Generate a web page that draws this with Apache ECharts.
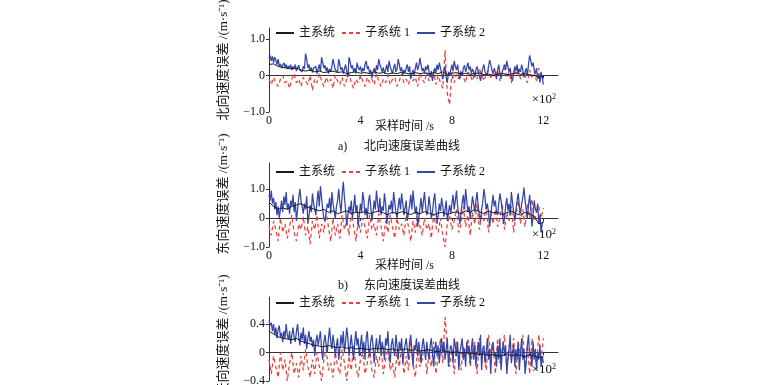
<!DOCTYPE html>
<html>
<head>
<meta charset="utf-8">
<script src="https://cdn.jsdelivr.net/npm/echarts@6/dist/echarts.min.js"></script>
<style>
html,body{margin:0;padding:0;background:#fff;}
#chart{width:770px;height:385px;}
</style>
</head>
<body>
<div id="chart"></div>
<script>
// ---- data (x in units of 10^2 s) ----
var xTicks = [0, 4, 8, 12];
var yTicksA = [-1, 0, 1];
var yTicksB = [-1, 0, 1];
var yTicksC = [-0.4, 0, 0.4];
var seriesNames = ['主系统', '子系统 1', '子系统 2'];
var mainStep = 0.2;   // sample spacing of main-system arrays
var sub1Step = 0.1;   // sample spacing of sub-system 1 arrays
var sub2Step = 0.05;  // sample spacing of sub-system 2 arrays

// a) north velocity error
var northMain = [0.3,0.32,0.25,0.22,0.2,0.18,0.2,0.15,0.12,0.15,
  0.1,0.12,0.08,0.1,0.12,0.08,0.1,0.05,0.08,0.1,
  0.06,0.08,0.05,0.1,0.06,0.08,0.04,0.07,0.05,0.09,
  0.06,0.04,0.08,0.05,0.07,0.04,0.08,0.05,0.1,0.02,
  0.06,0.08,0.04,0.06,0.03,0.05,0.07,0.02,0.04,0.0,
  0.03,0.06,0.02,0.04,0.07,0.03,0.05,0.02,0.0,-0.05,-0.02];
var northSub1 = [-0.1,-0.25,-0.05,-0.2,-0.3,-0.1,0.0,-0.2,-0.15,-0.35,
  -0.1,0.05,-0.2,-0.1,-0.3,-0.05,-0.15,-0.25,0.0,-0.4,
  -0.1,-0.2,0.05,-0.15,-0.3,-0.05,-0.2,-0.1,-0.35,0.0,
  -0.15,-0.25,-0.05,-0.3,-0.1,0.05,-0.2,-0.35,-0.1,-0.2,
  0.0,-0.15,-0.3,-0.05,-0.2,-0.1,-0.25,0.05,-0.15,-0.3,
  -0.1,-0.2,0.0,-0.25,-0.1,-0.05,-0.3,-0.15,0.05,-0.2,
  -0.1,-0.25,0.0,-0.15,-0.05,-0.3,0.05,-0.1,-0.2,0.1,
  -0.15,-0.05,0.15,-0.25,0.0,-0.2,-0.35,0.7,-0.5,-0.8,
  0.1,-0.2,0.05,-0.1,0.15,-0.05,-0.2,0.1,0.0,-0.15,
  0.1,-0.1,0.2,0.0,-0.15,0.05,0.15,-0.1,0.1,-0.05,
  0.15,-0.15,0.05,0.2,-0.05,0.1,-0.2,0.15,0.0,0.2,
  -0.1,0.1,0.0,-0.2,0.15,-0.05,0.1,-0.15,0.2,0.0,-0.1];
var northSub2 = [
  0.48,0.55,0.4,0.52,0.35,0.5,0.42,0.3,0.45,0.25,0.32,0.2,0.28,0.35,0.22,0.3,0.18,0.26,0.2,0.3,
  0.15,0.25,0.18,0.3,0.12,0.22,0.28,0.15,0.2,0.1,0.25,0.18,0.6,0.45,0.2,0.3,0.12,0.22,0.08,0.2,
  0.15,0.25,0.05,0.18,0.3,0.1,0.5,0.35,0.2,0.28,0.12,0.22,0.05,0.18,0.1,0.25,0.45,0.3,0.15,0.2,
  0.1,0.45,0.3,0.15,0.22,0.05,0.18,0.3,0.12,-0.05,0.5,0.38,0.2,0.28,0.1,0.2,0.05,0.35,0.22,0.15,
  0.25,0.08,0.2,0.12,0.3,0.4,0.18,0.25,0.05,0.15,-0.08,0.1,0.2,0.05,0.28,0.15,0.45,0.3,0.2,0.1,
  0.22,0.05,0.15,0.3,0.1,0.4,0.25,0.15,0.05,0.2,0.32,0.1,0.18,0.45,0.3,0.12,0.22,0.0,0.15,0.08,
  0.2,0.3,0.1,0.25,-0.1,0.05,0.15,0.0,0.2,0.35,0.15,0.25,0.48,0.3,0.12,0.2,0.05,0.25,0.15,0.3,
  0.1,-0.05,0.12,-0.15,0.05,0.2,0.08,0.3,0.15,0.35,0.2,0.05,-0.1,0.1,0.25,-0.05,-0.2,0.1,0.0,0.15,
  0.3,0.12,0.4,0.25,0.15,0.3,0.05,-0.1,0.1,0.0,0.2,0.28,0.1,0.22,0.35,0.15,0.25,0.05,0.18,0.1,
  -0.05,0.15,0.25,0.1,0.0,-0.15,0.05,0.2,0.3,0.1,0.15,0.0,0.25,0.42,0.3,0.15,0.05,0.2,0.1,-0.1,
  0.15,0.3,0.05,-0.1,0.1,0.2,0.3,0.15,0.4,0.25,0.1,0.2,-0.05,-0.15,0.05,0.25,0.12,0.3,0.05,0.18,
  0.1,0.3,0.15,-0.05,0.1,0.2,0.0,0.3,0.55,0.4,0.25,0.35,0.15,0.05,0.2,-0.1,0.05,-0.2,0.1,-0.05,
  -0.25];

// b) east velocity error
var eastMain = [0.55,0.4,0.3,0.35,0.3,0.4,0.45,0.5,0.4,0.35,
  0.3,0.25,0.3,0.2,0.25,0.15,0.2,0.25,0.15,0.2,
  0.18,0.22,0.15,0.2,0.25,0.18,0.12,0.2,0.15,0.22,
  0.18,0.12,0.2,0.15,0.22,0.17,0.1,0.18,0.2,0.12,
  0.18,0.22,0.15,0.25,0.2,0.3,0.22,0.15,0.25,0.18,
  0.2,0.12,0.18,0.25,0.15,0.1,0.2,0.15,0.05,-0.2,-0.15];
var eastSub1 = [-0.3,-0.6,-0.1,-0.4,-0.8,0.0,-0.5,-0.2,-0.7,-0.3,
  0.1,-0.5,-0.8,-0.2,-0.4,0.05,-0.6,-0.3,-0.9,-0.1,
  -0.4,0.1,-0.7,-0.2,-0.5,0.2,-0.3,-0.8,0.0,-0.6,
  -0.2,-0.7,0.1,-0.4,-0.1,-0.6,0.2,-0.3,-0.8,-0.1,
  -0.5,0.0,-0.3,-0.7,0.1,-0.4,-0.2,-0.6,0.15,-0.3,
  -0.8,-0.1,-0.5,0.1,-0.3,-0.7,0.0,-0.4,-0.2,-0.6,
  0.1,-0.3,-0.8,-0.1,-0.5,0.2,-0.3,-0.6,0.0,-0.4,
  -0.2,-0.7,0.15,-0.3,-0.5,0.0,-0.6,-1.0,-0.2,0.1,
  -0.4,-0.1,0.3,-0.5,-0.2,0.4,-0.3,0.1,-0.6,0.2,
  -0.2,0.5,-0.4,0.1,-0.1,0.4,-0.5,0.2,-0.2,0.3,
  -0.3,0.0,0.5,-0.4,0.2,-0.1,0.4,-0.5,0.1,0.6,
  -0.2,0.3,-0.3,0.5,0.0,0.65,-0.1,0.2,0.4,0.0,0.35];
var eastSub2 = [
  0.8,0.6,0.95,0.5,0.7,0.3,0.55,0.1,0.4,0.0,0.3,0.6,0.2,0.75,0.45,0.9,0.3,0.5,0.15,0.6,
  0.4,0.8,0.2,0.55,-0.1,0.3,0.7,1.0,0.6,0.4,0.15,0.5,0.3,0.75,-0.2,0.1,0.45,0.2,0.85,0.5,
  0.3,0.1,0.6,0.95,0.4,1.1,0.7,0.3,0.0,-0.1,0.2,0.5,0.35,0.7,0.15,0.9,0.5,0.25,0.0,0.4,
  0.6,1.0,0.5,0.2,0.8,1.25,0.7,0.3,-0.25,0.1,0.4,0.2,0.6,0.0,0.35,0.8,0.2,0.45,-0.3,0.1,
  0.5,0.2,0.9,0.6,0.1,0.35,0.0,0.55,0.8,0.4,-0.1,0.2,0.6,0.3,0.95,0.5,0.2,0.7,0.1,0.4,
  0.25,0.85,0.5,-0.2,0.1,0.45,0.3,0.6,0.15,0.9,0.55,0.2,0.0,0.4,0.7,0.3,0.85,0.5,0.1,0.35,
  0.6,-0.1,0.2,0.45,0.8,0.3,0.95,0.5,0.15,0.4,-0.3,0.0,0.35,0.7,0.2,0.55,0.9,0.4,0.1,0.3,
  0.75,0.4,0.0,0.2,0.6,0.85,0.3,-0.2,0.1,0.5,0.25,0.7,0.4,0.05,0.3,0.6,-0.1,0.2,0.45,0.15,
  0.5,0.8,0.3,0.6,0.95,0.4,0.1,-0.2,0.2,0.55,0.8,0.3,1.0,0.6,0.2,0.4,0.0,0.35,0.75,0.5,
  0.2,0.6,0.9,0.4,0.1,-0.1,0.3,0.55,1.0,0.7,0.3,0.5,0.2,-0.3,0.1,0.45,0.8,0.4,0.6,0.2,
  0.1,0.5,0.85,0.6,0.3,-0.2,0.0,0.4,0.7,0.25,0.5,0.1,0.9,0.55,0.2,-0.1,0.3,0.6,0.85,0.4,
  0.15,0.5,0.7,1.05,0.6,0.3,0.0,0.45,0.8,0.35,-0.3,0.1,0.6,0.3,0.2,0.5,-0.2,0.1,-0.5,-0.2,
  -0.1];

// c) up velocity error
var upMain = [0.3,0.26,0.22,0.2,0.19,0.18,0.2,0.16,0.14,0.12,
  0.1,0.09,0.08,0.1,0.08,0.07,0.08,0.06,0.07,0.05,
  0.06,0.05,0.04,0.06,0.05,0.06,0.04,0.05,0.03,0.04,
  0.05,0.03,0.04,0.02,0.03,0.04,0.02,0.01,0.03,0.01,
  0.0,0.01,-0.01,0.0,-0.02,-0.01,-0.03,-0.02,-0.04,-0.03,
  -0.05,-0.04,-0.02,-0.05,-0.03,-0.04,-0.06,-0.03,-0.05,-0.07,-0.06];
var upSub1 = [-0.1,-0.3,-0.05,-0.2,-0.35,0.0,-0.25,-0.1,-0.4,-0.15,
  0.0,-0.3,-0.15,-0.35,-0.05,-0.25,0.05,-0.2,-0.35,-0.1,
  -0.3,0.0,-0.2,-0.4,-0.1,0.05,-0.25,-0.15,-0.35,0.0,
  -0.2,-0.3,0.05,-0.15,-0.4,-0.05,-0.25,0.1,-0.2,-0.35,
  -0.1,0.0,-0.3,-0.15,0.05,-0.25,-0.35,-0.05,-0.2,0.1,
  -0.3,-0.1,0.05,-0.25,-0.15,-0.35,0.0,-0.2,0.1,-0.3,
  -0.05,-0.25,0.15,-0.15,-0.35,0.05,-0.2,-0.1,0.1,-0.3,
  0.0,-0.2,0.15,-0.3,-0.05,0.2,-0.15,0.5,0.1,-0.2,
  0.05,-0.3,0.15,-0.1,-0.25,0.1,-0.05,0.2,-0.2,0.0,
  0.15,-0.3,0.2,-0.1,0.05,-0.25,0.25,-0.05,0.1,-0.3,
  0.2,-0.15,0.05,0.25,-0.25,0.1,-0.1,0.2,-0.3,0.15,
  -0.05,0.25,-0.2,0.1,-0.3,0.2,0.0,-0.15,0.25,-0.1,0.2];
var upSub2 = [
  0.45,0.38,0.42,0.3,0.4,0.25,0.35,0.2,0.32,0.38,0.22,0.28,0.15,0.3,0.2,0.4,0.25,0.18,0.3,0.12,
  0.25,0.35,0.2,0.15,0.3,0.4,0.22,0.1,0.28,0.18,0.35,0.12,0.25,0.05,0.2,0.3,0.15,0.22,0.08,0.18,
  -0.05,0.15,0.25,0.1,0.2,0.3,0.05,-0.1,0.15,0.25,0.1,0.0,0.2,0.35,0.15,0.05,0.25,0.12,-0.05,0.1,
  0.2,-0.1,0.05,0.25,0.1,0.3,0.0,0.15,0.35,0.2,-0.05,0.1,0.25,0.05,-0.1,0.15,0.3,0.1,0.2,-0.05,
  0.1,0.25,0.0,0.15,-0.1,0.2,0.3,0.05,-0.05,0.15,0.25,0.1,-0.15,0.05,0.2,0.0,0.1,0.25,-0.05,0.15,
  0.05,-0.1,0.2,0.1,0.3,0.0,-0.15,0.1,0.2,0.05,-0.05,0.25,0.1,-0.1,0.15,0.05,0.2,-0.15,0.0,0.1,
  0.2,0.05,-0.1,0.15,0.25,0.0,-0.2,0.1,0.05,0.2,-0.05,0.15,0.0,-0.15,0.1,0.2,0.05,-0.1,0.15,0.0,
  -0.1,0.1,0.2,0.0,-0.2,0.05,0.15,-0.05,0.1,-0.15,0.05,0.2,0.0,0.15,-0.1,0.05,0.2,-0.2,0.0,0.1,
  0.05,-0.15,0.2,0.1,-0.05,0.15,-0.25,0.0,0.1,0.2,-0.1,0.05,-0.2,0.15,0.0,0.1,-0.15,0.05,0.2,-0.1,
  0.1,-0.2,0.0,0.15,-0.05,0.25,-0.25,0.05,0.1,-0.15,0.0,0.2,-0.1,0.05,-0.3,0.1,0.15,-0.05,0.0,-0.2,
  0.1,-0.1,0.2,-0.25,0.0,0.15,-0.05,0.1,-0.3,-0.1,0.05,0.25,-0.15,0.0,0.1,-0.2,0.05,-0.1,0.15,-0.25,
  0.0,0.2,-0.1,0.05,-0.3,-0.15,0.1,0.25,-0.05,0.0,-0.2,0.15,-0.1,0.05,-0.25,0.0,-0.1,0.1,-0.2,-0.05,
  -0.15];

var yNames = ['北向速度误差 /(m·s⁻¹)', '东向速度误差 /(m·s⁻¹)', '天向速度误差 /(m·s⁻¹)'];
var xName = '采样时间 /s';
var captions = [['a)', '北向速度误差曲线'], ['b)', '东向速度误差曲线']];

// ---- chart ----
var numFont = '"Liberation Serif","Times New Roman",serif';
var txtFont = '"Liberation Serif","Noto Sans CJK SC",serif';
var colors = ['#1a1a1a', '#e8423f', '#3446a8'];

function toPairs(arr, step) { return arr.map(function (v, i) { return [+(i * step).toFixed(2), v]; }); }
function fmt(v) { if (Math.abs(v) < 1e-9) return '0'; return (v < 0 ? '−' : '') + Math.abs(v).toFixed(1); }

var panels = [
  {top: 28, min: -1, max: 1.3, ticks: yTicksA, data: [northMain, northSub1, northSub2], legendTop: 27, expY: 100, nameY: 60},
  {top: 163, min: -1, max: 1.9, ticks: yTicksB, data: [eastMain, eastSub1, eastSub2], legendTop: 166, expY: 235, nameY: 194},
  {top: 297, min: -0.4, max: 0.78, ticks: yTicksC, data: [upMain, upSub1, upSub2], legendTop: 297, expY: 370, nameY: 335}
];

var grids = [], xAxes = [], yAxes = [], series = [], legends = [], graphics = [];
panels.forEach(function (p, gi) {
  grids.push({left: 269, width: 289, top: p.top, height: 84, containLabel: false, outerBoundsMode: 'none'});
  xAxes.push({
    type: 'value', gridIndex: gi, min: 0, max: 12.64,
    axisLine: {show: true, lineStyle: {color: '#333', width: 1}},
    axisTick: {show: true, length: 3, customValues: xTicks, lineStyle: {color: '#333'}},
    axisLabel: {customValues: xTicks, fontFamily: numFont, fontSize: 12, color: '#111', margin: 3,
      formatter: function (v) { return String(v); }},
    splitLine: {show: false}
  });
  yAxes.push({
    type: 'value', gridIndex: gi, min: p.min, max: p.max,
    axisLine: {show: true, lineStyle: {color: '#333', width: 1}},
    axisTick: {show: true, length: 3, customValues: p.ticks, lineStyle: {color: '#333'}},
    axisLabel: {customValues: p.ticks, fontFamily: numFont, fontSize: 12, color: '#111', margin: 4, formatter: fmt},
    splitLine: {show: false}
  });
  var steps = [mainStep, sub1Step, sub2Step];
  p.data.forEach(function (arr, si) {
    series.push({
      type: 'line', name: seriesNames[si], xAxisIndex: gi, yAxisIndex: gi,
      data: toPairs(arr, steps[si]), symbol: 'none', showSymbol: false, animation: false,
      z: si === 0 ? 4 : 2,
      lineStyle: {color: colors[si], width: si === 0 ? 1 : 1.25, type: si === 1 ? [4, 3] : 'solid'},
      itemStyle: {color: colors[si]}
    });
  });
  legends.push({
    left: 275, top: p.legendTop, padding: 0, itemWidth: 18, itemHeight: 10, itemGap: 6,
    data: seriesNames.slice(),
    itemStyle: {opacity: 0},
    textStyle: {fontFamily: txtFont, fontSize: 12, color: '#111'},
    selectedMode: false
  });
  graphics.push({type: 'text', x: 556, y: p.expY, style: {
    text: '{a|×10}{s|2}', align: 'right', verticalAlign: 'middle',
    rich: {a: {fontFamily: numFont, fontSize: 13, fill: '#111', lineHeight: 14},
           s: {fontFamily: numFont, fontSize: 8, fill: '#111', verticalAlign: 'top', lineHeight: 14, padding: [0, 0, 6, 0]}}
  }});
  graphics.push({type: 'text', x: 224, y: p.nameY, rotation: Math.PI / 2,
    style: {text: yNames[gi], fontFamily: txtFont, fontSize: 13, fill: '#111', align: 'center', verticalAlign: 'middle'}});
});
[127, 266].forEach(function (y, i) {
  graphics.push({type: 'text', x: 375, y: y, style: {text: xName, fontFamily: txtFont, fontSize: 12, fill: '#111', align: 'left', verticalAlign: 'middle'}});
  graphics.push({type: 'text', x: 338, y: y + 20, style: {text: captions[i][0], fontFamily: numFont, fontSize: 12, fill: '#111', align: 'left', verticalAlign: 'middle'}});
  graphics.push({type: 'text', x: 364, y: y + 20, style: {text: captions[i][1], fontFamily: txtFont, fontSize: 12, fill: '#111', align: 'left', verticalAlign: 'middle'}});
});

var chart = echarts.init(document.getElementById('chart'), null, {renderer: 'canvas'});
chart.setOption({
  animation: false,
  backgroundColor: '#fff',
  grid: grids, xAxis: xAxes, yAxis: yAxes, series: series, legend: legends,
  graphic: graphics
});
</script>
</body>
</html>
